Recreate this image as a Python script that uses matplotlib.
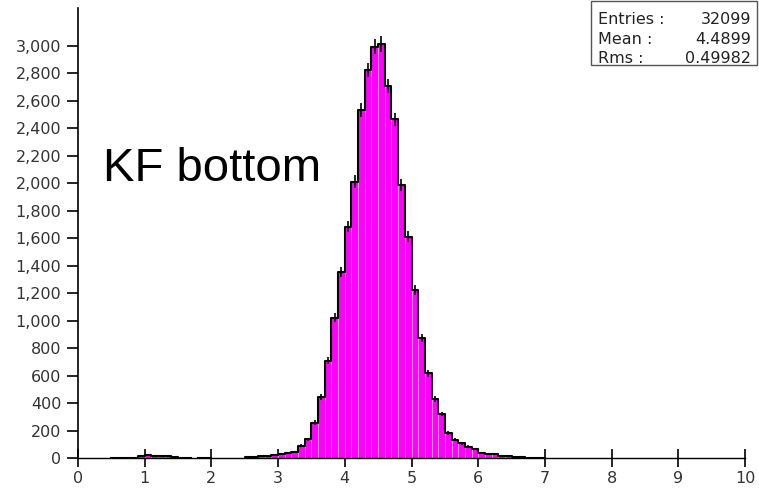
import numpy as np
import matplotlib
matplotlib.use('Agg')
import matplotlib.pyplot as plt
from matplotlib.ticker import FuncFormatter

# histogram of "KF bottom", bins of 0.1 starting at 0.5
bin_width = 0.1
first_edge = 0.5
counts = [3, 3, 4, 4, 18,
          22, 20, 18, 16, 10, 4, 3, 0, 4, 4,
          0, 0, 0, 0, 0, 6, 10, 15, 20, 24,
          30, 40, 48, 92, 138, 259, 448, 710, 1023, 1353,
          1684, 2012, 2533, 2824, 2993, 3013, 2708, 2465, 1988, 1612,
          1224, 873, 618, 429, 322, 183, 135, 108, 85, 65,
          42, 30, 28, 20, 15, 8, 6, 5, 3, 2]
stats_labels = ['Entries :', 'Mean :', 'Rms :']
stats_values = ['32099', '4.4899', '0.49982']
title_text = 'KF bottom'

counts = np.array(counts, dtype=float)
edges = first_edge + bin_width * np.arange(len(counts) + 1)
centers = edges[:-1] + bin_width / 2

fig = plt.figure(figsize=(7.59, 4.92), dpi=100)
W, H = 759, 492
x0, x1 = 78, 745
y0, ytop = 458.3, 8
ax = fig.add_axes([x0 / W, (H - y0) / H, (x1 - x0) / W, (y0 - ytop) / H])

# filled bars with pale separators
ax.bar(edges[:-1], counts, width=bin_width, align='edge', color='#ff00ff',
       edgecolor='#ff9cff', linewidth=0.6, zorder=2)

# step outline, broken where bins are empty
xs, ys = [], []
for i, c in enumerate(counts):
    if c == 0:
        xs.append(np.nan)
        ys.append(np.nan)
        continue
    prev = counts[i - 1] if i > 0 else 0
    if prev == 0:
        xs += [edges[i]]
        ys += [0]
    xs += [edges[i], edges[i + 1]]
    ys += [c, c]
    nxt = counts[i + 1] if i + 1 < len(counts) else 0
    if nxt == 0:
        xs += [edges[i + 1]]
        ys += [0]
ax.plot(xs, ys, color='black', lw=1.5, zorder=3)

# error bars
nz = counts > 0
ax.vlines(centers[nz], counts[nz] - np.sqrt(counts[nz]), counts[nz] + np.sqrt(counts[nz]),
          color='black', lw=1.2, zorder=4)

ax.set_xlim(0, 10)
ax.set_ylim(0, (y0 - ytop) / 0.1375)
ax.set_xticks(range(0, 11))
ax.set_yticks(range(0, 3001, 200))
ax.yaxis.set_major_formatter(FuncFormatter(lambda v, p: '{:,.0f}'.format(v)))
for s in ['top', 'right']:
    ax.spines[s].set_visible(False)
ax.spines['left'].set_linewidth(1.2)
ax.spines['bottom'].set_linewidth(1.0)
ax.tick_params(axis='x', direction='inout', length=13, width=1.2, labelsize=11.5,
               labelcolor='#333333', pad=3)
ax.tick_params(axis='y', direction='out', length=8, width=1.2, labelsize=11.5,
               labelcolor='#333333', pad=4)
for lab in ax.get_xticklabels() + ax.get_yticklabels():
    lab.set_family('DejaVu Sans')

fig.text(103 / W, (H - 181) / H, title_text, fontsize=34, family='Liberation Sans',
         ha='left', va='baseline')

# stats box
bx0, bx1, by0, by1 = 591, 757, 1, 65
fig.patches.append(plt.Rectangle((bx0 / W, (H - by1) / H), (bx1 - bx0) / W, (by1 - by0) / H,
                                 transform=fig.transFigure, facecolor='white',
                                 edgecolor='#555555', lw=1.0))
for k, (lab, val) in enumerate(zip(stats_labels, stats_values)):
    yb = 24 + k * 19.5
    fig.text(598 / W, (H - yb) / H, lab, fontsize=11.5, family='DejaVu Sans',
             color='#222222', va='baseline', ha='left')
    fig.text(751 / W, (H - yb) / H, val, fontsize=11.5, family='DejaVu Sans',
             color='#222222', va='baseline', ha='right')

fig.savefig('out.png', dpi=100)
